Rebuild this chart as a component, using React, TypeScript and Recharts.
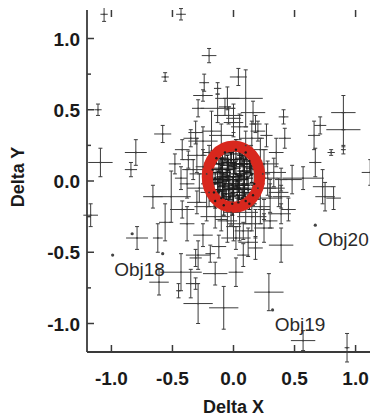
import React from 'react';
import { ScatterChart, Scatter, XAxis, YAxis, ErrorBar } from 'recharts';

// ---------- data (x, y, xErr, yErr) ----------
const corePoints: number[][] = [
  [0.00, 0.03, 0.10, 0.12], [-0.05, 0.08, 0.06, 0.08], [0.04, -0.02, 0.08, 0.06],
  [-0.08, -0.04, 0.05, 0.10], [0.09, 0.10, 0.07, 0.05], [-0.12, 0.12, 0.04, 0.06],
  [0.12, -0.06, 0.05, 0.09], [-0.02, 0.15, 0.09, 0.05], [0.03, -0.10, 0.06, 0.07],
  [-0.10, -0.12, 0.08, 0.05], [0.07, 0.18, 0.04, 0.07], [-0.15, 0.02, 0.06, 0.04],
  [0.15, 0.05, 0.05, 0.06], [-0.04, -0.06, 0.12, 0.10], [0.01, 0.09, 0.05, 0.04],
  [-0.07, 0.20, 0.06, 0.06], [0.10, -0.14, 0.04, 0.05], [-0.01, -0.16, 0.07, 0.08],
  [0.06, 0.04, 0.03, 0.03], [-0.11, 0.06, 0.09, 0.13], [0.13, 0.14, 0.06, 0.08],
  [-0.06, -0.09, 0.04, 0.04], [0.02, 0.22, 0.05, 0.07], [-0.16, -0.08, 0.05, 0.06],
  [0.17, -0.02, 0.07, 0.10], [-0.03, 0.01, 0.15, 0.07], [0.05, 0.12, 0.08, 0.11],
  [-0.09, 0.16, 0.03, 0.05], [0.08, -0.08, 0.10, 0.06], [-0.13, -0.01, 0.04, 0.08],
  [0.00, -0.05, 0.05, 0.15], [-0.04, 0.11, 0.07, 0.04], [0.11, 0.02, 0.05, 0.05],
  [-0.08, -0.17, 0.06, 0.07], [0.04, -0.15, 0.09, 0.05], [0.02, 0.05, 0.06, 0.09],
  [-0.06, 0.03, 0.08, 0.05], [0.08, 0.07, 0.05, 0.10], [-0.10, 0.09, 0.06, 0.07],
  [0.05, -0.05, 0.07, 0.08], [-0.03, -0.11, 0.05, 0.06], [0.14, 0.09, 0.04, 0.05],
  [-0.14, 0.16, 0.05, 0.04], [0.10, 0.20, 0.06, 0.05], [-0.02, 0.19, 0.08, 0.06],
  [0.00, 0.12, 0.10, 0.09], [-0.07, -0.02, 0.09, 0.07], [0.07, -0.12, 0.06, 0.06],
  [-0.12, -0.07, 0.07, 0.09], [0.16, -0.10, 0.05, 0.07], [-0.17, 0.08, 0.06, 0.08],
  [0.03, 0.00, 0.04, 0.05], [-0.05, 0.13, 0.05, 0.05], [0.11, 0.12, 0.09, 0.06],
  [-0.09, 0.00, 0.05, 0.12], [0.06, 0.16, 0.05, 0.04], [-0.01, -0.03, 0.11, 0.06],
  [0.09, -0.03, 0.05, 0.08], [-0.15, -0.14, 0.05, 0.05], [0.13, -0.16, 0.06, 0.04],
];

const nearPoints: number[][] = [
  [-0.25, 0.28, 0.12, 0.10], [-0.30, 0.18, 0.08, 0.12], [-0.22, 0.05, 0.14, 0.08],
  [-0.28, -0.05, 0.10, 0.10], [-0.35, 0.30, 0.06, 0.06], [-0.18, 0.35, 0.08, 0.14],
  [-0.10, 0.32, 0.10, 0.08], [0.05, 0.38, 0.07, 0.09], [0.15, 0.30, 0.10, 0.12],
  [0.22, 0.22, 0.06, 0.08], [0.25, 0.12, 0.12, 0.10], [0.28, 0.02, 0.08, 0.12],
  [0.20, -0.05, 0.15, 0.08], [0.30, -0.12, 0.10, 0.10], [0.22, -0.18, 0.08, 0.12],
  [0.15, -0.25, 0.12, 0.10], [0.05, -0.30, 0.10, 0.12], [-0.05, -0.28, 0.08, 0.15],
  [-0.15, -0.25, 0.12, 0.08], [-0.22, -0.18, 0.10, 0.10], [-0.30, -0.15, 0.08, 0.08],
  [-0.38, -0.02, 0.06, 0.10], [-0.33, 0.08, 0.09, 0.07], [0.35, 0.20, 0.06, 0.10],
  [0.33, 0.06, 0.10, 0.10], [0.39, 0.01, 0.05, 0.08], [0.39, -0.11, 0.07, 0.08],
  [0.73, -0.04, 0.08, 0.12], [0.45, -0.20, 0.06, 0.08], [-0.31, 0.34, 0.06, 0.08],
  [-0.07, 0.52, 0.05, 0.06], [0.00, 0.41, 0.08, 0.10], [-0.10, -0.27, 0.05, 0.08],
  [0.00, -0.32, 0.06, 0.10], [0.12, -0.43, 0.08, 0.10], [0.18, -0.47, 0.06, 0.08],
  [-0.31, -0.54, 0.05, 0.06], [-0.15, -0.65, 0.10, 0.08], [-0.35, -0.72, 0.04, 0.10],
  [-0.12, -0.46, 0.06, 0.08], [-0.19, -0.51, 0.04, 0.06], [-0.25, -0.38, 0.08, 0.08],
  [-0.38, -0.30, 0.06, 0.12], [0.08, -0.52, 0.05, 0.08], [0.02, -0.40, 0.12, 0.08],
  [0.25, -0.33, 0.08, 0.10], [0.30, -0.28, 0.06, 0.05], [-0.42, -0.20, 0.10, 0.06],
  [0.10, 0.25, 0.06, 0.10], [-0.20, 0.20, 0.05, 0.05], [0.27, 0.32, 0.05, 0.08],
  [0.42, 0.30, 0.05, 0.07], [-0.48, 0.12, 0.05, 0.07], [0.18, 0.40, 0.05, 0.06],
  [0.10, -0.22, 0.10, 0.08], [0.18, -0.30, 0.06, 0.10], [0.25, -0.20, 0.05, 0.07],
  [0.08, -0.35, 0.07, 0.06], [-0.02, -0.22, 0.06, 0.09], [0.30, -0.05, 0.12, 0.06],
  [-0.25, 0.10, 0.06, 0.12], [-0.20, -0.08, 0.07, 0.10], [0.24, 0.05, 0.06, 0.07],
];

const outerPoints: number[][] = [
  [-1.06, 1.17, 0.03, 0.05], [-0.43, 1.17, 0.04, 0.04], [-0.56, 0.73, 0.03, 0.03],
  [-1.11, 0.50, 0.03, 0.04], [-1.09, 0.13, 0.10, 0.10], [-0.80, 0.20, 0.09, 0.09],
  [-0.84, 0.08, 0.05, 0.05], [-0.58, 0.33, 0.07, 0.06], [-0.42, 0.22, 0.06, 0.07],
  [-0.37, 0.15, 0.05, 0.06], [-0.43, 0.02, 0.05, 0.08], [-0.66, -0.11, 0.08, 0.08],
  [-0.51, -0.11, 0.16, 0.18], [-0.20, 0.88, 0.06, 0.05], [0.04, 0.73, 0.07, 0.06],
  [-0.24, 0.69, 0.04, 0.06], [-0.13, 0.65, 0.03, 0.04], [-0.25, 0.60, 0.08, 0.04],
  [0.10, 0.58, 0.14, 0.20], [-0.05, 0.58, 0.10, 0.08], [-0.29, 0.51, 0.05, 0.06],
  [-0.13, 0.51, 0.14, 0.10], [0.16, 0.48, 0.10, 0.08], [-0.04, 0.46, 0.12, 0.06],
  [0.00, 0.44, 0.06, 0.10], [0.41, 0.45, 0.04, 0.05], [0.71, 0.39, 0.05, 0.06],
  [0.90, 0.48, 0.10, 0.12], [0.90, 0.36, 0.14, 0.12], [0.66, 0.32, 0.05, 0.10],
  [0.80, 0.20, 0.03, 0.02], [0.90, 0.22, 0.02, 0.03], [0.67, 0.13, 0.05, 0.10],
  [1.12, 0.06, 0.07, 0.09], [0.20, 0.35, 0.06, 0.07], [0.57, 0.02, 0.17, 0.08],
  [0.48, 0.01, 0.08, 0.10], [0.75, -0.11, 0.08, 0.10], [0.82, -0.12, 0.06, 0.08],
  [0.37, -0.08, 0.08, 0.10], [0.39, -0.23, 0.08, 0.07], [0.29, -0.78, 0.12, 0.13],
  [0.57, -1.12, 0.10, 0.07], [0.93, -1.17, 0.02, 0.10], [0.39, -0.45, 0.10, 0.12],
  [-0.08, -0.89, 0.12, 0.15], [0.02, -0.64, 0.06, 0.10], [-0.79, -0.40, 0.09, 0.08],
  [-0.62, -0.40, 0.04, 0.10], [-0.56, -0.29, 0.05, 0.13], [-0.61, -0.71, 0.08, 0.09],
  [-0.43, -0.64, 0.17, 0.13], [-0.29, -0.52, 0.10, 0.10], [-0.45, -0.77, 0.02, 0.05],
  [-0.31, -0.72, 0.03, 0.04], [-0.29, -0.86, 0.12, 0.14], [-1.17, -0.24, 0.06, 0.08],
];

const plainDots: number[][] = [
  [-0.99, -0.52], [0.32, -0.905], [0.67, -0.31], [-0.58, -0.51], [-0.83, -0.37],
];

const annotations: { x: number; y: number; text: string }[] = [
  { x: -0.77, y: -0.62, text: 'Obj18' },
  { x: 0.545, y: -1.0, text: 'Obj19' },
  { x: 0.90, y: -0.41, text: 'Obj20' },
];

const ringData = [{ x: 0.0, y: 0.03, r: 0.215 }];

const xMajorTicks = [-1.0, -0.5, 0.0, 0.5, 1.0];
const yTicks = [-1.0, -0.75, -0.5, -0.25, 0.0, 0.25, 0.5, 0.75, 1.0];
const DOMAIN: [number, number] = [-1.2, 1.2];

// ---------- layout ----------
const W = 370;
const H = 409;
const MARGIN = { top: 2, right: -2, bottom: 0, left: 0 };
const Y_AXIS_W = 79;
const X_AXIS_H = 65;
const PLOT_W = W - MARGIN.left - MARGIN.right - Y_AXIS_W;
const PLOT_H = H - MARGIN.top - MARGIN.bottom - X_AXIS_H;
const PX_X = PLOT_W / (DOMAIN[1] - DOMAIN[0]);
const PX_Y = PLOT_H / (DOMAIN[1] - DOMAIN[0]);

const FONT = '"Liberation Sans", Arial, Helvetica, sans-serif';
const AXIS = '#3a3a3a';
const MARK = '#3c3c3c';
const CORE_MARK = '#1c1c1c';

const toObj = (arr: number[][]) => arr.map(([x, y, ex, ey]) => ({ x, y, ex, ey }));
const crossData = [...toObj(outerPoints), ...toObj(nearPoints)];
const coreData = toObj(corePoints);
const dotData = plainDots.map(([x, y]) => ({ x, y }));

const isMajor = (v: number) => Math.abs(v * 2 - Math.round(v * 2)) < 1e-6;
const fmt = (v: number) => (Math.abs(v) < 1e-9 ? '0.0' : v.toFixed(1));

const LeftTick = (p: any) => {
  const { x, y, payload } = p;
  const v = payload.value;
  const m = isMajor(v);
  const len = m ? 7 : 4;
  return (
    <g>
      <line x1={x} y1={y} x2={x + len} y2={y} stroke={AXIS} strokeWidth={1.5} />
      <line x1={x + PLOT_W} y1={y} x2={x + PLOT_W - len} y2={y} stroke={AXIS} strokeWidth={1.5} />
      {m && (
        <text x={x - 7} y={y} dy={7} textAnchor="end" fontSize={19} fontWeight="bold" fill="#1a1a1a" fontFamily={FONT}>
          {fmt(v)}
        </text>
      )}
    </g>
  );
};

const BottomTick = (p: any) => {
  const { x, y, payload } = p;
  return (
    <g>
      <line x1={x} y1={y} x2={x} y2={y - 7} stroke={AXIS} strokeWidth={1.5} />
      <line x1={x} y1={y - PLOT_H} x2={x} y2={y - PLOT_H + 7} stroke={AXIS} strokeWidth={1.5} />
      <text x={x} y={y + 33} textAnchor="middle" fontSize={19} fontWeight="bold" fill="#1a1a1a" fontFamily={FONT}>
        {fmt(payload.value)}
      </text>
    </g>
  );
};

const CrossCenter = (p: any) => <circle cx={p.cx} cy={p.cy} r={0.9} fill={MARK} />;
const CoreCenter = (p: any) => <circle cx={p.cx} cy={p.cy} r={1.2} fill={CORE_MARK} />;
const DotShape = (p: any) => <circle cx={p.cx} cy={p.cy} r={1.6} fill="#444" />;
const RingShape = (p: any) => (
  <ellipse
    cx={p.cx}
    cy={p.cy}
    rx={p.payload.r * PX_X}
    ry={p.payload.r * PX_Y}
    fill="none"
    stroke="#d8271d"
    strokeWidth={11}
  />
);
const LabelShape = (p: any) => (
  <text x={p.cx} y={p.cy} dy={7} textAnchor="middle" fontSize={19} fill="#2a2a2a" fontFamily={FONT}>
    {p.payload.text}
  </text>
);

const YLabel = (p: any) => {
  const vb = p.viewBox || { x: 0, y: 0, width: 0, height: 0 };
  const cx = vb.x + 10;
  const cy = vb.y + vb.height / 2 - 4;
  return (
    <text
      x={cx}
      y={cy}
      transform={`rotate(-90, ${cx}, ${cy})`}
      textAnchor="middle"
      dominantBaseline="central"
      fontSize={18}
      fontWeight="bold"
      fill="#1a1a1a"
      fontFamily={FONT}
    >
      Delta Y
    </text>
  );
};

const XLabel = (p: any) => {
  const vb = p.viewBox || { x: 0, y: 0, width: 0, height: 0 };
  return (
    <text
      x={vb.x + vb.width / 2}
      y={vb.y + 61}
      textAnchor="middle"
      fontSize={18}
      fontWeight="bold"
      fill="#1a1a1a"
      fontFamily={FONT}
    >
      Delta X
    </text>
  );
};

export default function App() {
  return (
    <div style={{ width: W, height: H, background: '#fff' }}>
      <ScatterChart width={W} height={H} margin={MARGIN}>
        <XAxis
          xAxisId="b"
          type="number"
          dataKey="x"
          domain={DOMAIN}
          ticks={xMajorTicks}
          interval={0}
          allowDataOverflow
          height={X_AXIS_H}
          tickSize={0}
          tickMargin={0}
          tickLine={false}
          axisLine={{ stroke: AXIS, strokeWidth: 1.8 }}
          tick={<BottomTick />}
          label={<XLabel />}
        />
        <XAxis
          xAxisId="t"
          orientation="top"
          type="number"
          dataKey="x"
          domain={DOMAIN}
          allowDataOverflow
          height={0}
          tickLine={false}
          tick={false}
          axisLine={{ stroke: AXIS, strokeWidth: 1.8 }}
        />
        <YAxis
          yAxisId="l"
          type="number"
          dataKey="y"
          domain={DOMAIN}
          ticks={yTicks}
          interval={0}
          allowDataOverflow
          width={Y_AXIS_W}
          tickSize={0}
          tickMargin={0}
          tickLine={false}
          axisLine={{ stroke: AXIS, strokeWidth: 1.8 }}
          tick={<LeftTick />}
          label={<YLabel />}
        />
        <YAxis
          yAxisId="r"
          orientation="right"
          type="number"
          dataKey="y"
          domain={DOMAIN}
          allowDataOverflow
          width={0}
          tickLine={false}
          tick={false}
          axisLine={{ stroke: AXIS, strokeWidth: 1.8 }}
        />
        <Scatter xAxisId="b" yAxisId="l" data={ringData} shape={<RingShape />} isAnimationActive={false} />
        <Scatter xAxisId="b" yAxisId="l" data={crossData} shape={<CrossCenter />} isAnimationActive={false}>
          <ErrorBar dataKey="ex" direction="x" width={0} stroke={MARK} strokeWidth={1} isAnimationActive={false} />
          <ErrorBar dataKey="ey" direction="y" width={2} stroke={MARK} strokeWidth={1} isAnimationActive={false} />
        </Scatter>
        <Scatter xAxisId="b" yAxisId="l" data={coreData} shape={<CoreCenter />} isAnimationActive={false}>
          <ErrorBar dataKey="ex" direction="x" width={0} stroke={CORE_MARK} strokeWidth={1.1} isAnimationActive={false} />
          <ErrorBar dataKey="ey" direction="y" width={2} stroke={CORE_MARK} strokeWidth={1.1} isAnimationActive={false} />
        </Scatter>
        <Scatter xAxisId="b" yAxisId="l" data={dotData} shape={<DotShape />} isAnimationActive={false} />
        <Scatter xAxisId="b" yAxisId="l" data={annotations} shape={<LabelShape />} isAnimationActive={false} />
      </ScatterChart>
    </div>
  );
}
